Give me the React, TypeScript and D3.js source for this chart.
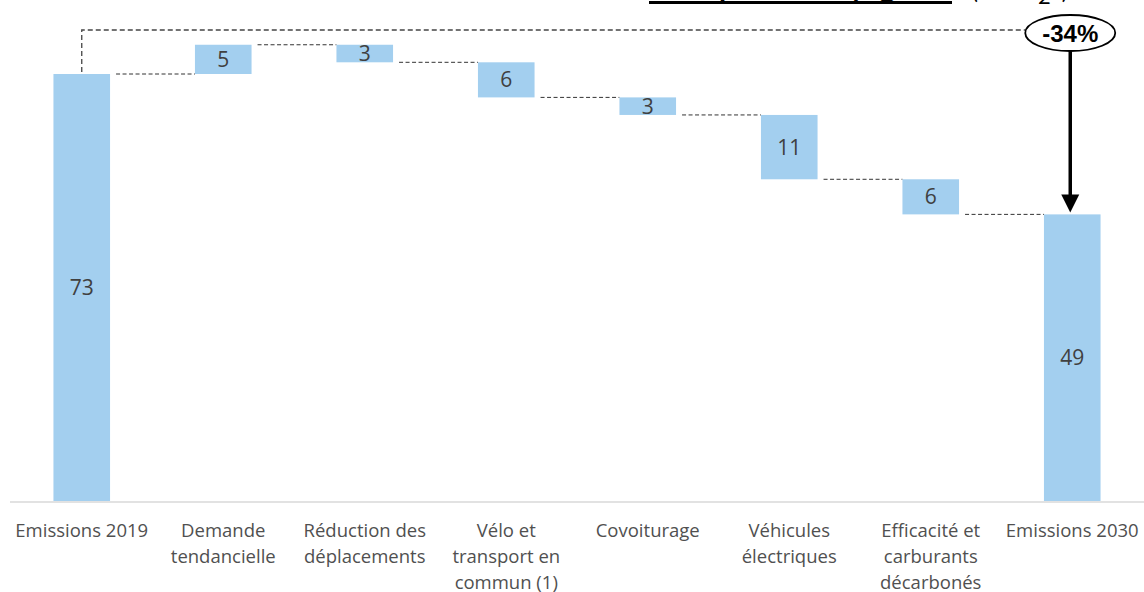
import * as d3 from "d3";

const categories = [
  ["Emissions 2019"],
  ["Demande", "tendancielle"],
  ["Réduction des", "déplacements"],
  ["Vélo et", "transport en", "commun (1)"],
  ["Covoiturage"],
  ["Véhicules", "électriques"],
  ["Efficacité et", "carburants", "décarbonés"],
  ["Emissions 2030"],
];
// first and last are totals, the rest are deltas
const values = [73, 5, -3, -6, -3, -11, -6, 49];
const isTotal = [true, false, false, false, false, false, false, true];
const reductionLabel = "-34%";

const W = 1144;
const H = 592;
const baseY = 501;
const barColor = "#a3cfef";
const font = "'Open Sans', sans-serif";

export default function App() {
  const keys = categories.map((_, i) => String(i));
  const x = d3.scaleBand().domain(keys).range([11, 1143]).paddingInner(0.6).paddingOuter(0.3);
  const y = d3.scaleLinear().domain([0, 73]).range([baseY, 74]);

  // compute start/end for each step
  let running = 0;
  const bars = values.map((v, i) => {
    let lo: number, hi: number;
    if (isTotal[i]) {
      lo = 0;
      hi = v;
      running = v;
    } else {
      const start = running;
      running = start + v;
      lo = Math.min(start, running);
      hi = Math.max(start, running);
    }
    return { i, v, lo, hi, end: running };
  });

  const bw = x.bandwidth();
  const first = bars[0];
  const last = bars[bars.length - 1];
  const cxFirst = (x("0") || 0) + bw / 2;
  const cxLast = (x(String(bars.length - 1)) || 0) + bw / 2;
  const bracketY = 30;
  const ell = { cx: cxLast - 2, cy: 33, rx: 45, ry: 18 };

  return (
    <svg width={W} height={H} style={{ position: "absolute", left: 0, top: 0 }}>
      <rect width={W} height={H} fill="#fff" />

      {/* title, cropped at the very top like the source */}
      <text x={800} y={-2} textAnchor="middle" fontFamily="Lato" fontWeight="bold" fontSize={22} textLength={300} lengthAdjust="spacingAndGlyphs" fill="#000">
        Transport de voyageurs
      </text>
      <line x1={649} x2={952} y1={2.5} y2={2.5} stroke="#000" strokeWidth={3} />
      <text x={972} y={-1} fontFamily="Lato" fontSize={22} fill="#000">
        (MtCO
        <tspan dy={5}>2</tspan>
        <tspan dy={-5}>e)</tspan>
      </text>

      {/* axis line */}
      <line x1={10} x2={W} y1={baseY + 1} y2={baseY + 1} stroke="#d9d9d9" strokeWidth={1.5} />

      {/* bracket from 2019 to the -34% bubble */}
      <path
        d={`M${cxFirst},${y(first.hi) - 2} V${bracketY} H${ell.cx - ell.rx}`}
        fill="none"
        stroke="#444"
        strokeWidth={1.3}
        strokeDasharray="5,3"
      />

      {/* connectors */}
      {bars.slice(0, -1).map((b, k) => {
        const next = bars[k + 1];
        const x1 = (x(String(b.i)) || 0) + bw + 6;
        const x2 = x(String(next.i)) || 0;
        return (
          <line key={"c" + k} x1={x1} x2={x2} y1={y(b.end)} y2={y(b.end)} stroke="#333" strokeWidth={1} strokeDasharray="4,2.5" />
        );
      })}

      {/* bars */}
      {bars.map((b) => (
        <rect key={"b" + b.i} x={x(String(b.i))} y={y(b.hi)} width={bw} height={y(b.lo) - y(b.hi)} fill={barColor} />
      ))}

      {/* values */}
      {bars.map((b) => (
        <text
          key={"v" + b.i}
          x={(x(String(b.i)) || 0) + bw / 2}
          y={(y(b.hi) + y(b.lo)) / 2}
          dy="0.36em"
          textAnchor="middle"
          fontFamily={font}
          fontSize={21}
          fill="#404040"
        >
          {Math.abs(b.v)}
        </text>
      ))}

      {/* category labels */}
      {categories.map((lines, i) => (
        <text key={"l" + i} x={(x(String(i)) || 0) + bw / 2} y={537} textAnchor="middle" fontFamily={font} fontSize={18.5} fill="#505050">
          {lines.map((l, j) => (
            <tspan key={j} x={(x(String(i)) || 0) + bw / 2} dy={j === 0 ? 0 : 26}>
              {l}
            </tspan>
          ))}
        </text>
      ))}

      {/* bubble and arrow */}
      <ellipse cx={ell.cx} cy={ell.cy} rx={ell.rx} ry={ell.ry} fill="#fff" stroke="#000" strokeWidth={1.8} />
      <text x={ell.cx} y={ell.cy} dy="0.36em" textAnchor="middle" fontFamily="Liberation Sans" fontWeight="bold" fontSize={24} fill="#000">
        {reductionLabel}
      </text>
      <line x1={cxLast - 2} x2={cxLast - 2} y1={ell.cy + ell.ry} y2={y(last.hi) - 18} stroke="#000" strokeWidth={3.5} />
      <path
        d={`M${cxLast - 11},${y(last.hi) - 20} L${cxLast + 7},${y(last.hi) - 20} L${cxLast - 2},${y(last.hi) - 2} Z`}
        fill="#000"
      />
    </svg>
  );
}
